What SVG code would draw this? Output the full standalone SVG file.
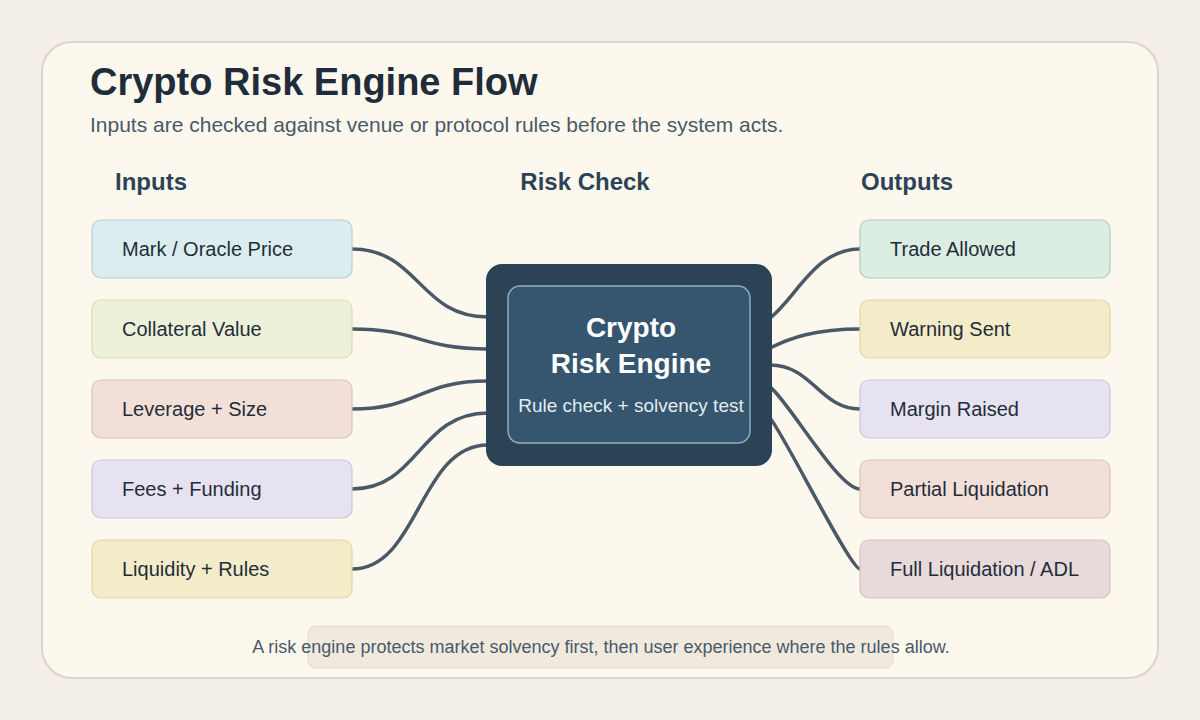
<svg xmlns="http://www.w3.org/2000/svg" width="1200" height="720" viewBox="0 0 1200 720">
<style>
.title{font-family:"Liberation Sans",Arial,sans-serif;font-weight:700;font-size:38px;fill:#1f2d3a}
.sub{font-family:"Liberation Sans",Arial,sans-serif;font-size:21px;fill:#4a5968}
.hdr{font-family:"Liberation Sans",Arial,sans-serif;font-weight:700;font-size:24px;fill:#2c4356}
.lbl{font-family:"Liberation Sans",Arial,sans-serif;font-size:20px;fill:#1f2d3a}
.box{stroke-width:1.2}
.conn{fill:none;stroke:#4b5967;stroke-width:3.5;stroke-linecap:round}
.ct{font-family:"Liberation Sans",Arial,sans-serif;font-weight:700;font-size:28px;fill:#ffffff;text-anchor:middle}
.cs{font-family:"Liberation Sans",Arial,sans-serif;font-size:19px;fill:#e3ebf0;text-anchor:middle}
.foot{font-family:"Liberation Sans",Arial,sans-serif;font-size:18px;fill:#4a5968;text-anchor:middle}
</style>
<rect width="1200" height="720" fill="#f3efe8"/>
<rect x="42" y="42" width="1116" height="636" rx="30" fill="#fdf8ee" stroke="#ddd5c5" stroke-width="2"/>
<text class="title" x="90" y="95">Crypto Risk Engine Flow</text>
<text class="sub" x="90" y="132">Inputs are checked against venue or protocol rules before the system acts.</text>
<text class="hdr" x="115" y="190">Inputs</text>
<text class="hdr" x="585" y="190" text-anchor="middle">Risk Check</text>
<text class="hdr" x="861" y="190">Outputs</text>
<g id="connectors">
<path class="conn" d="M352,249 C419,249 419,317 488,317"/>
<path class="conn" d="M352,329 C419,329 419,349 488,349"/>
<path class="conn" d="M352,409 C419,409 419,381 488,381"/>
<path class="conn" d="M352,489 C419,489 419,413 488,413"/>
<path class="conn" d="M352,569 C419,569 419,445 488,445"/>
<path class="conn" d="M770,318 C797,297 815,249 860,249"/>
<path class="conn" d="M770,348 C790,338 815,329 860,329"/>
<path class="conn" d="M770,365 C812,365 820,409 860,409"/>
<path class="conn" d="M770,387 C788,400 838,489 860,489"/>
<path class="conn" d="M770,418 C785,436 850,569 860,569"/>
</g>
<g id="in-mark"><rect class="box" x="92" y="220" width="260" height="58" rx="9" fill="#dcedf0" stroke="#b9cdd4"/><text class="lbl" x="122" y="256">Mark / Oracle Price</text></g>
<g id="in-collateral"><rect class="box" x="92" y="300" width="260" height="58" rx="9" fill="#edf1da" stroke="#dcdca8"/><text class="lbl" x="122" y="336">Collateral Value</text></g>
<g id="in-leverage"><rect class="box" x="92" y="380" width="260" height="58" rx="9" fill="#f2e0d8" stroke="#dcc2b6"/><text class="lbl" x="122" y="416">Leverage + Size</text></g>
<g id="in-fees"><rect class="box" x="92" y="460" width="260" height="58" rx="9" fill="#e6e2f2" stroke="#cac6dc"/><text class="lbl" x="122" y="496">Fees + Funding</text></g>
<g id="in-liquidity"><rect class="box" x="92" y="540" width="260" height="58" rx="9" fill="#f4ebc8" stroke="#e2d6a2"/><text class="lbl" x="122" y="576">Liquidity + Rules</text></g>
<g id="engine">
<rect x="486" y="264" width="286" height="202" rx="16" fill="#2c4356"/>
<rect x="508" y="286" width="242" height="157" rx="12" fill="#35566e" stroke="#8fb0c2" stroke-width="1.5"/>
<text class="ct" x="631" y="337">Crypto</text>
<text class="ct" x="631" y="373">Risk Engine</text>
<text class="cs" x="631" y="412">Rule check + solvency test</text>
</g>
<g id="out-allowed"><rect class="box" x="860" y="220" width="250" height="58" rx="9" fill="#dcede2" stroke="#b8c8c2"/><text class="lbl" x="890" y="256">Trade Allowed</text></g>
<g id="out-warning"><rect class="box" x="860" y="300" width="250" height="58" rx="9" fill="#f4ebc8" stroke="#e2d6a2"/><text class="lbl" x="890" y="336">Warning Sent</text></g>
<g id="out-margin"><rect class="box" x="860" y="380" width="250" height="58" rx="9" fill="#e6e2f2" stroke="#cac6dc"/><text class="lbl" x="890" y="416">Margin Raised</text></g>
<g id="out-partial"><rect class="box" x="860" y="460" width="250" height="58" rx="9" fill="#f2e0d8" stroke="#dcc2b6"/><text class="lbl" x="890" y="496">Partial Liquidation</text></g>
<g id="out-full"><rect class="box" x="860" y="540" width="250" height="58" rx="9" fill="#e8dada" stroke="#d8c2bc"/><text class="lbl" x="890" y="576">Full Liquidation / ADL</text></g>
<g id="footer">
<rect x="308" y="626" width="585" height="42" rx="8" fill="#efe9de" stroke="#e2dccd"/>
<text class="foot" x="601" y="653">A risk engine protects market solvency first, then user experience where the rules allow.</text>
</g>
</svg>
